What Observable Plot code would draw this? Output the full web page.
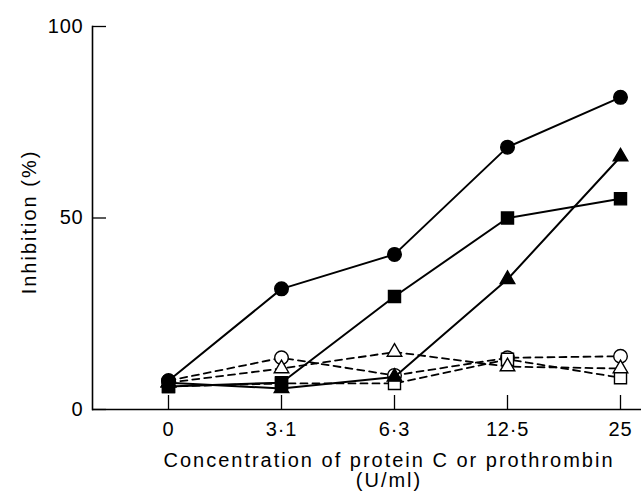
<!DOCTYPE html>
<html><head><meta charset="utf-8">
<script src="https://cdn.jsdelivr.net/npm/d3@7"></script>
<script src="https://cdn.jsdelivr.net/npm/@observablehq/plot@0.6"></script>
<style>
body{margin:0;background:#fff} svg{display:block}
g[aria-label="text"] text{letter-spacing:2px}
</style>
</head><body><div id="chart"></div>
<script>
const concentrations = ["0", "3·1", "6·3", "12·5", "25"];
const filledCircle   = [7.5, 31.5, 40.5, 68.5, 81.5];
const filledSquare   = [6.0, 7.0, 29.5, 50.0, 55.0];
const filledTriangle = [7.0, 5.5, 8.5, 34.0, 66.0];
const openCircle     = [7.5, 13.5, 8.9, 13.5, 13.9];
const openTriangle   = [7.0, 10.7, 15.0, 11.2, 10.7];
const openSquare     = [6.0, 6.8, 6.8, 13.1, 8.3];
const yTicks = [0, 50, 100];
const xTitle = "Concentration of protein C or prothrombin\n(U/ml)";
const yTitle = "Inhibition (%)";

const series = [
  {name: "filledCircle", values: filledCircle, symbol: "circle", filled: true},
  {name: "filledSquare", values: filledSquare, symbol: "square", filled: true},
  {name: "filledTriangle", values: filledTriangle, symbol: "triangle", filled: true},
  {name: "openCircle", values: openCircle, symbol: "circle", filled: false},
  {name: "openTriangle", values: openTriangle, symbol: "triangle", filled: false},
  {name: "openSquare", values: openSquare, symbol: "square", filled: false}
];
const rows = series.flatMap(s => s.values.map((v, i) => ({series: s.name, symbol: s.symbol, filled: s.filled, conc: concentrations[i], value: v})));
const sizes = {circle: 6.8, square: 6.8, triangle: 5.4};
const font = "Liberation Sans, Arial, sans-serif";

function dots(filled) {
  return ["circle", "square", "triangle"].map(sym => Plot.dot(rows.filter(d => d.filled === filled && d.symbol === sym), {
    x: "conc", y: "value", symbol: sym, r: sizes[sym],
    fill: filled ? "black" : "white", stroke: "black", strokeWidth: 1.4
  }));
}

const chart = Plot.plot({
  width: 641, height: 492,
  marginLeft: 92, marginRight: 0, marginTop: 26, marginBottom: 83,
  style: {fontFamily: font, fontSize: "20px", background: "white", color: "black", letterSpacing: "0.8px"},
  x: {type: "point", domain: concentrations, padding: 0, insetLeft: 75, insetRight: 21},
  y: {domain: [0, 100]},
  marks: [
    Plot.ruleY([0], {stroke: "black", strokeWidth: 1.6}),
    Plot.frame({anchor: "left", stroke: "black", strokeWidth: 1.6}),
    Plot.axisX({tickSize: -14, tickPadding: 26, label: null, stroke: "black", strokeWidth: 1.3}),
    Plot.axisY({ticks: yTicks, tickSize: -14, tickPadding: 23, label: null, stroke: "black", strokeWidth: 1.3}),
    Plot.text([xTitle], {frameAnchor: "bottom", dx: 22, dy: 43, lineAnchor: "top", lineHeight: 1.0, fontSize: 20}),
    Plot.text([yTitle], {frameAnchor: "left", textAnchor: "middle", rotate: -90, dx: -63, dy: 4, fontSize: 20}),
    Plot.line(rows.filter(d => !d.filled), {x: "conc", y: "value", z: "series", stroke: "black", strokeWidth: 1.8, strokeDasharray: "7,5"}),
    ...dots(false),
    Plot.line(rows.filter(d => d.filled), {x: "conc", y: "value", z: "series", stroke: "black", strokeWidth: 2}),
    ...dots(true)
  ]
});
document.getElementById("chart").appendChild(chart);
</script>
</body></html>
